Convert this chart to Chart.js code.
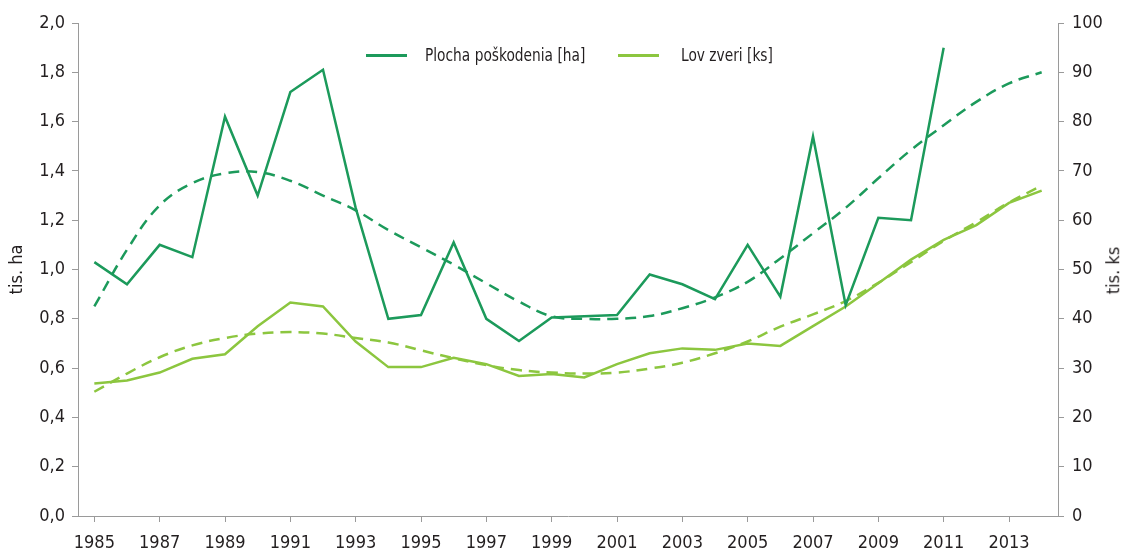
<!DOCTYPE html>
<html>
<head>
<meta charset="utf-8">
<script src="https://cdn.jsdelivr.net/npm/chart.js@4.4.1/dist/chart.umd.min.js"></script>
<style>
  body { margin: 0; background: #fff; }
  #wrap { position: relative; width: 1123px; height: 553px; font-family: "Liberation Sans Narrow", "DejaVu Sans Condensed", sans-serif; color: #231f20; }
  .leg-line { position: absolute; height: 3px; }
  .leg-text { position: absolute; font-size: 18px; line-height: 20px; white-space: nowrap; transform: scaleX(0.85); transform-origin: left center; }
  #titleRight { position: absolute; font-size: 18px; white-space: nowrap; transform: rotate(-90deg); transform-origin: center center; }
</style>
</head>
<body>
<div id="wrap">
  <canvas id="myChart" width="1123" height="553"></canvas>
  <div id="legend"></div>
  <div id="titleRight">tis. ks</div>
</div>
<script>
// roky
const years = [1985, 1986, 1987, 1988, 1989, 1990, 1991, 1992, 1993, 1994,
  1995, 1996, 1997, 1998, 1999, 2000, 2001, 2002, 2003, 2004,
  2005, 2006, 2007, 2008, 2009, 2010, 2011, 2012, 2013, 2014];

// Plocha poškodenia (tis. ha)
const plocha = [1.03, 0.94, 1.10, 1.05, 1.62, 1.30, 1.72, 1.81, 1.25, 0.80,
  0.815, 1.11, 0.80, 0.71, 0.805, 0.81, 0.815, 0.98, 0.94, 0.88,
  1.10, 0.89, 1.54, 0.855, 1.21, 1.20, 1.90, null, null, null];

// trend plochy
const plochaTrend = [0.85, 1.08, 1.26, 1.35, 1.39, 1.395, 1.36, 1.30, 1.24, 1.16,
  1.09, 1.02, 0.944, 0.87, 0.81, 0.80, 0.80, 0.811, 0.843, 0.887,
  0.95, 1.045, 1.147, 1.25, 1.37, 1.485, 1.585, 1.68, 1.755, 1.80];

// Lov zveri (tis. ks)
const lov = [26.9, 27.5, 29.1, 31.9, 32.8, 38.5, 43.3, 42.5, 35.4, 30.2,
  30.2, 32.1, 30.8, 28.4, 28.8, 28.1, 30.8, 33.0, 34.0, 33.7,
  35.0, 34.5, 38.5, 42.5, 47.2, 52.0, 56.0, 59.0, 63.5, 66.0];

// trend lovu
const lovTrend = [25.2, 28.9, 32.2, 34.6, 36.1, 37.0, 37.3, 37.0, 36.1, 35.2,
  33.6, 32.0, 30.6, 29.6, 29.1, 28.9, 29.1, 29.9, 31.1, 33.0,
  35.4, 38.4, 40.9, 43.6, 47.3, 51.5, 55.8, 59.6, 63.6, 67.0];

const darkGreen = '#1c9a5b';
const lightGreen = '#8cc63f';
const axisGray = '#9a9a9a';
const fontFam = '"Liberation Sans Narrow", "DejaVu Sans Condensed", sans-serif';
const textCol = '#231f20';

Chart.defaults.font.family = fontFam;
Chart.defaults.font.size = 18;
Chart.defaults.color = textCol;

const ctx = document.getElementById('myChart').getContext('2d');
const chart = new Chart(ctx, {
  type: 'line',
  data: {
    labels: years,
    datasets: [
      {
        label: 'Plocha poškodenia [ha]',
        data: plocha,
        yAxisID: 'y',
        borderColor: darkGreen,
        borderWidth: 2.5,
        pointRadius: 0,
        tension: 0
      },
      {
        label: 'Lov zveri [ks]',
        data: lov,
        yAxisID: 'y1',
        borderColor: lightGreen,
        borderWidth: 2.5,
        pointRadius: 0,
        tension: 0
      },
      {
        label: 'trend plocha',
        data: plochaTrend,
        yAxisID: 'y',
        borderColor: darkGreen,
        borderWidth: 2.5,
        borderDash: [11, 7],
        pointRadius: 0,
        tension: 0.4
      },
      {
        label: 'trend lov',
        data: lovTrend,
        yAxisID: 'y1',
        borderColor: lightGreen,
        borderWidth: 2.5,
        borderDash: [11, 7],
        pointRadius: 0,
        tension: 0.4
      }
    ]
  },
  options: {
    responsive: false,
    animation: false,
    layout: { padding: { top: 23, left: 0, right: 0, bottom: 0 } },
    plugins: {
      legend: { display: false },
      tooltip: { enabled: false }
    },
    scales: {
      x: {
        offset: true,
        grid: { drawOnChartArea: false, offset: false, color: axisGray, tickLength: 6 },
        border: { color: axisGray },
        ticks: { autoSkip: true, maxTicksLimit: 15, maxRotation: 0, padding: 11 },
        afterFit: (s) => { s.height = 37; }
      },
      y: {
        position: 'left',
        min: 0,
        max: 2,
        grid: { drawOnChartArea: false, color: axisGray, tickLength: 6 },
        border: { color: axisGray },
        ticks: {
          stepSize: 0.2,
          padding: 7,
          callback: (v) => v.toFixed(1).replace('.', ',')
        },
        title: { display: true, text: 'tis. ha', padding: { top: 7, bottom: 0 } },
        afterFit: (s) => { s.width = 78; }
      },
      y1: {
        position: 'right',
        min: 0,
        max: 100,
        grid: { drawOnChartArea: false, color: axisGray, tickLength: 6 },
        border: { color: axisGray },
        ticks: { stepSize: 10, padding: 8 },
        afterFit: (s) => { s.width = 65; }
      }
    }
  }
});

// legenda len pre hlavné série
function drawLegend() {
  const leg = document.getElementById('legend');
  const items = [
    { ds: chart.data.datasets[0], lineX: 366, textX: 425 },
    { ds: chart.data.datasets[1], lineX: 618, textX: 681 }
  ];
  items.forEach((it) => {
    const line = document.createElement('div');
    line.className = 'leg-line';
    line.style.left = it.lineX + 'px';
    line.style.top = '54px';
    line.style.width = '41px';
    line.style.background = it.ds.borderColor;
    leg.appendChild(line);
    const txt = document.createElement('div');
    txt.className = 'leg-text';
    txt.style.left = it.textX + 'px';
    txt.style.top = '45px';
    txt.textContent = it.ds.label;
    leg.appendChild(txt);
  });
  const t = document.getElementById('titleRight');
  const w = t.offsetWidth, h = t.offsetHeight;
  t.style.left = (1112 - w / 2) + 'px';
  t.style.top = (270 - h / 2) + 'px';
}
drawLegend();
</script>
</body>
</html>
